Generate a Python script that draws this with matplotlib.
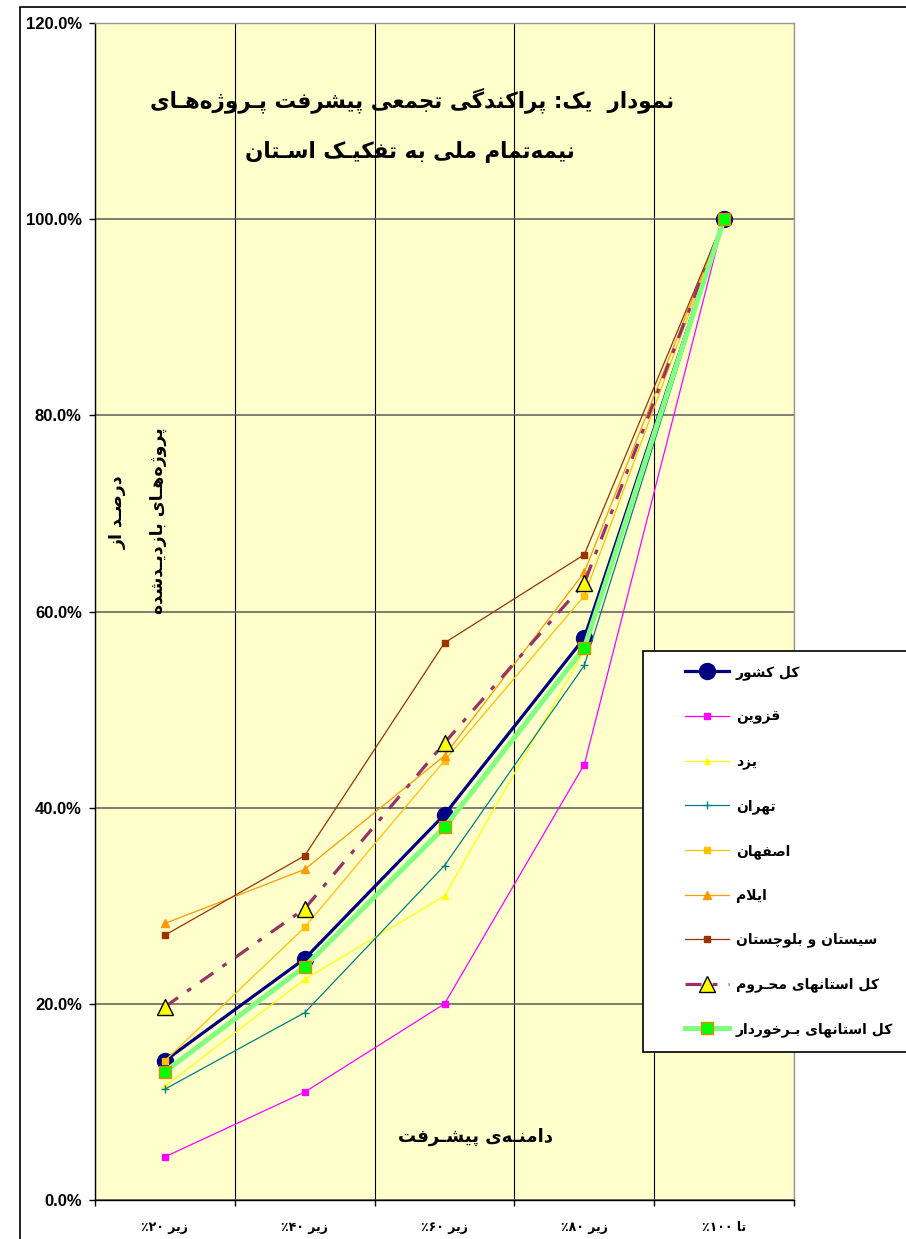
import re
import matplotlib
matplotlib.use("Agg")
import matplotlib.pyplot as plt
from matplotlib.ticker import FuncFormatter, FixedLocator
from matplotlib.patches import Rectangle

# ---------------- data ----------------
categories = ["زیر ۲۰٪", "زیر ۴۰٪", "زیر ۶۰٪", "زیر ۸۰٪", "تا ۱۰۰٪"]
kol_keshvar = [14.2, 24.6, 39.3, 57.3, 100.0]
qazvin = [4.4, 11.0, 20.0, 44.4, 100.0]
yazd = [11.6, 22.5, 31.0, 56.0, 100.0]
tehran = [11.3, 19.1, 34.1, 54.5, 100.0]
isfahan = [14.2, 27.8, 44.8, 61.6, 100.0]
ilam = [28.2, 33.7, 45.3, 64.0, 100.0]
sistan = [27.0, 35.1, 56.8, 65.8, 100.0]
mahroom = [19.7, 29.7, 46.6, 62.9, 100.0]
barkhordar = [13.1, 23.8, 38.0, 56.3, 100.0]

series_names = ["کل کشور", "قزوین", "یزد", "تهران", "اصفهان", "ایلام",
                "سیستان و بلوچستان", "کل استانهای محـروم", "کل استانهای بـرخوردار"]
title_lines = ["نمودار  یک: پراکندگی تجمعی پیشرفت پـروژه‌هـای",
               "نیمه‌تمام ملی به تفکیـک اسـتان"]
ylabel_lines = ["درصـد از", "پروژه‌هـای بازدیـدشده"]
xlabel_text = "دامنـه‌ی پیشـرفت"

# ---------------- minimal Arabic/Persian shaping for display ----------------
FORMS = {
    '\u0627': ('\uFE8D', '\uFE8E', None, None),
    '\u0628': ('\uFE8F', '\uFE90', '\uFE91', '\uFE92'),
    '\u062A': ('\uFE95', '\uFE96', '\uFE97', '\uFE98'),
    '\u062C': ('\uFE9D', '\uFE9E', '\uFE9F', '\uFEA0'),
    '\u062D': ('\uFEA1', '\uFEA2', '\uFEA3', '\uFEA4'),
    '\u062E': ('\uFEA5', '\uFEA6', '\uFEA7', '\uFEA8'),
    '\u062F': ('\uFEA9', '\uFEAA', None, None),
    '\u0631': ('\uFEAD', '\uFEAE', None, None),
    '\u0632': ('\uFEAF', '\uFEB0', None, None),
    '\u0633': ('\uFEB1', '\uFEB2', '\uFEB3', '\uFEB4'),
    '\u0634': ('\uFEB5', '\uFEB6', '\uFEB7', '\uFEB8'),
    '\u0635': ('\uFEB9', '\uFEBA', '\uFEBB', '\uFEBC'),
    '\u0639': ('\uFEC9', '\uFECA', '\uFECB', '\uFECC'),
    '\u0641': ('\uFED1', '\uFED2', '\uFED3', '\uFED4'),
    '\u0642': ('\uFED5', '\uFED6', '\uFED7', '\uFED8'),
    '\u0644': ('\uFEDD', '\uFEDE', '\uFEDF', '\uFEE0'),
    '\u0645': ('\uFEE1', '\uFEE2', '\uFEE3', '\uFEE4'),
    '\u0646': ('\uFEE5', '\uFEE6', '\uFEE7', '\uFEE8'),
    '\u0647': ('\uFEE9', '\uFEEA', '\uFEEB', '\uFEEC'),
    '\u0648': ('\uFEED', '\uFEEE', None, None),
    '\u06CC': ('\uFBFC', '\uFBFD', '\uFBFE', '\uFBFF'),
    '\u06A9': ('\uFB8E', '\uFB8F', '\uFB90', '\uFB91'),
    '\u06AF': ('\uFB92', '\uFB93', '\uFB94', '\uFB95'),
    '\u067E': ('\uFB56', '\uFB57', '\uFB58', '\uFB59'),
    '\u0686': ('\uFB7A', '\uFB7B', '\uFB7C', '\uFB7D'),
    '\u0698': ('\uFB8A', '\uFB8B', None, None),
}
TATWEEL = '\u0640'


def dual(c):
    return c == TATWEEL or (c in FORMS and FORMS[c][2] is not None)


def joins(c):
    return c == TATWEEL or c in FORMS


def shape(text):
    chars = list(text)
    out = []
    i = 0
    n = len(chars)
    while i < n:
        c = chars[i]
        prev = chars[i - 1] if i > 0 else None
        nxt = chars[i + 1] if i + 1 < n else None
        if c not in FORMS:
            if c != '\u200c':
                out.append(c)
            i += 1
            continue
        jp = prev is not None and dual(prev)
        if c == '\u0644' and nxt == '\u0627':
            out.append('\uFEFC' if jp else '\uFEFB')
            i += 2
            continue
        iso, fin, ini, med = FORMS[c]
        jn = ini is not None and nxt is not None and joins(nxt)
        if jp and jn:
            out.append(med)
        elif jp:
            out.append(fin)
        elif jn:
            out.append(ini)
        else:
            out.append(iso)
        i += 1
    vis = ''.join(out)[::-1]
    vis = re.sub(r'[0-9\u06F0-\u06F9]+', lambda m: m.group(0)[::-1], vis)
    return vis


FA = ['DejaVu Sans']

# ---------------- figure ----------------
W, H = 906, 1239
fig = plt.figure(figsize=(W / 100, H / 100), dpi=100)
fig.patch.set_facecolor('white')

# outer chart border
fig.add_artist(Rectangle((20 / W, -0.05), 1.0, 1 - 7 / H + 0.05, transform=fig.transFigure,
                         fill=False, edgecolor='black', linewidth=1.2))

L, R, T, B = 95, 794, 23, 1200
ax = fig.add_axes([L / W, 1 - B / H, (R - L) / W, (B - T) / H])
ax.set_facecolor('#FFFFCC')

x = list(range(len(categories)))
pct = lambda v: [a / 100 for a in v]

ax.plot(x, pct(kol_keshvar), color='#000080', lw=2.3, marker='o', ms=11.5,
        mfc='#000080', mec='#000080', label=shape(series_names[0]), zorder=3)
ax.plot(x, pct(qazvin), color='#FF00FF', lw=0.9, marker='s', ms=3.8,
        mfc='#FF00FF', mec='#FF00FF', label=shape(series_names[1]), zorder=3)
ax.plot(x, pct(yazd), color='#FFFF00', lw=0.9, marker='^', ms=5,
        mfc='#FFFF00', mec='#FFFF00', label=shape(series_names[2]), zorder=3)
ax.plot(x, pct(tehran), color='#008080', lw=0.9, marker='+', ms=6, mew=1,
        label=shape(series_names[3]), zorder=3)
ax.plot(x, pct(isfahan), color='#FFC000', lw=0.9, marker='s', ms=4.2,
        mfc='#FFC000', mec='#FFC000', label=shape(series_names[4]), zorder=3)
ax.plot(x, pct(ilam), color='#FF9900', lw=0.9, marker='^', ms=5.5,
        mfc='#FF9900', mec='#FF9900', label=shape(series_names[5]), zorder=3)
ax.plot(x, pct(sistan), color='#993300', lw=0.9, marker='s', ms=4.2,
        mfc='#993300', mec='#993300', label=shape(series_names[6]), zorder=3)
ax.plot(x, pct(mahroom), color='#993366', lw=2.3, dashes=(5, 3.5, 1.5, 3.5),
        marker='^', ms=12, mfc='#FFFF00', mec='black', mew=1, markevery=[0, 1, 2, 3],
        label=shape(series_names[7]), zorder=3)
ax.plot(x, pct(barkhordar), color='#80FF80', lw=3.6, marker='s', ms=9,
        mfc='#00FF00', mec='#E08A00', mew=1, label=shape(series_names[8]), zorder=3)

ax.set_xlim(-0.5, len(categories) - 0.5)
ax.set_ylim(0, 1.2)
ax.set_yticks([0, 0.2, 0.4, 0.6, 0.8, 1.0, 1.2])
ax.yaxis.set_major_formatter(FuncFormatter(lambda v, p: f"{v * 100:.1f}%"))
ax.tick_params(axis='y', direction='out', length=4.5, width=1, pad=5, labelsize=12)
for lab in ax.get_yticklabels():
    lab.set_fontweight('bold')
    lab.set_family('Liberation Sans')

ax.set_xticks(x)
ax.set_xticklabels([shape(c) for c in categories], fontsize=9, fontweight='bold', family=FA)
ax.tick_params(axis='x', which='major', length=0, pad=15)
ax.xaxis.set_minor_locator(FixedLocator([i + 0.5 for i in range(-1, len(categories))]))
ax.tick_params(axis='x', which='minor', direction='out', length=4.5, width=1)

ax.grid(axis='y', which='major', color='#5a5a5a', lw=1.1, zorder=1)
ax.xaxis.grid(True, which='minor', color='black', lw=0.8, zorder=1)
ax.set_axisbelow(True)

ax.spines['left'].set_color('black')
ax.spines['bottom'].set_color('black')
ax.spines['top'].set_color('#999999')
ax.spines['right'].set_color('#999999')
for s in ax.spines.values():
    s.set_linewidth(1)

# title
fig.text(412 / W, 1 - 100 / H, shape(title_lines[0]), ha='center', va='center',
         fontsize=15.5, fontweight='bold', family=FA)
fig.text(410 / W, 1 - 152 / H, shape(title_lines[1]), ha='center', va='center',
         fontsize=15.5, fontweight='bold', family=FA)

# y label (inside plot)
fig.text(118 / W, 1 - 512 / H, shape(ylabel_lines[0]), ha='center', va='center',
         rotation=90, fontsize=12.5, fontweight='bold', family=FA)
fig.text(158 / W, 1 - 521 / H, shape(ylabel_lines[1]), ha='center', va='center',
         rotation=90, fontsize=12.5, fontweight='bold', family=FA)

# x label (inside plot)
fig.text(475 / W, 1 - 1137 / H, shape(xlabel_text), ha='center', va='center',
         fontsize=13, fontweight='bold', family=FA)

# legend frame + frameless legend
fig.add_artist(Rectangle((643 / W, 1 - 1052 / H), 0.5, (1052 - 651) / H, transform=fig.transFigure,
                         facecolor='white', edgecolor='black', linewidth=1.2, zorder=4))
leg = fig.legend(loc='upper left', bbox_to_anchor=(685 / W, 1 - 665 / H),
                 borderaxespad=0, borderpad=0, frameon=False,
                 prop={'family': FA, 'weight': 'bold', 'size': 10},
                 handlelength=3.2, labelspacing=2.16, handletextpad=0.45)
leg.set_zorder(5)

fig.savefig('out.png', dpi=100)
